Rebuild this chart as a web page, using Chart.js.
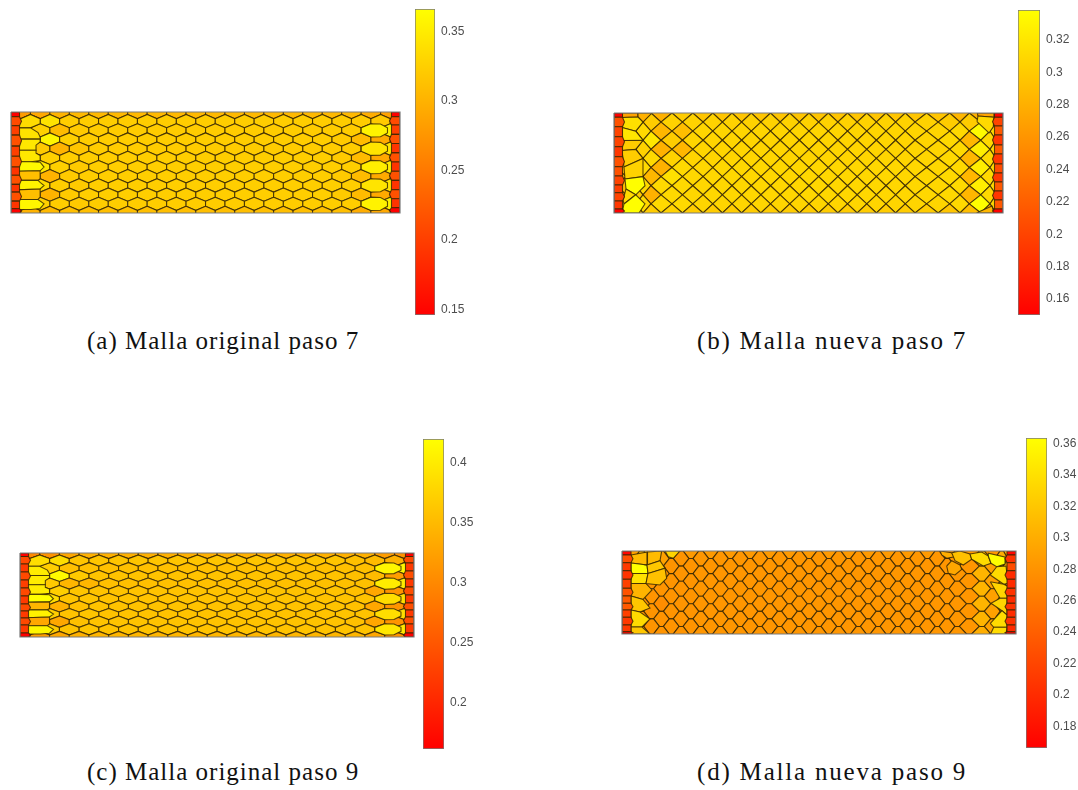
<!DOCTYPE html>
<html lang="es">
<head>
  <meta charset="UTF-8" />
  <title>Mallas</title>
  <script src="https://cdn.jsdelivr.net/npm/chart.js"></script>
  <style>
    html, body { margin: 0; background: #fff; overflow: hidden; }
    canvas { position: absolute; }
    .caption {
      position: absolute;
      font-family: "Liberation Serif", serif;
      font-size: 25px;
      letter-spacing: 1px;
      color: #111;
      white-space: nowrap;
    }
    .wide { letter-spacing: 1.8px; }
  </style>
</head>
<body>
  <div class="caption" style="left:87px;top:327px">(a) Malla original paso 7</div>
  <div class="caption wide" style="left:697px;top:327px">(b) Malla nueva paso 7</div>
  <div class="caption" style="left:87px;top:758px">(c) Malla original paso 9</div>
  <div class="caption wide" style="left:697px;top:758px">(d) Malla nueva paso 9</div>

  <script>
    // colour bars
    const ticksA = [0.15, 0.2, 0.25, 0.3, 0.35];
    const ticksB = [0.16, 0.18, 0.2, 0.22, 0.24, 0.26, 0.28, 0.3, 0.32];
    const ticksC = [0.2, 0.25, 0.3, 0.35, 0.4];
    const ticksD = [0.18, 0.2, 0.22, 0.24, 0.26, 0.28, 0.3, 0.32, 0.34, 0.36];
    const rangeA = [0.1452, 0.3654];
    const rangeB = [0.1495, 0.3379];
    const rangeC = [0.1608, 0.4192];
    const rangeD = [0.1656, 0.3630];

    // panel a: cell values by row, wall side cells / middle / far wall cells
    const leftA = [[.28,.29,.30,.305],[.33,.33,.34,.322],[.33,.325,.307,.32],[.33,.33,.358,.325],[.33,.32,.30,.315],[.33,.33,.325,.322],[.33,.345,.325,.32],[.33,.33,.30,.32],[.31,.335,.322,.32],[.33,.33,.30,.32],[.31,.325,.322,.32],[.30,.30,.305,.31]];
    const midA = [.305,.322,.321,.322,.321,.323,.323,.323,.323,.323,.322,.31];
    const rightA = [[.295,.285,.28],[.321,.321,.32,.32],[.339,.355,.29],[.32,.307,.292,.29],[.33,.342,.29],[.32,.307,.29,.29],[.334,.351,.29],[.32,.307,.292,.29],[.334,.342,.29],[.32,.307,.292,.29],[.339,.355,.29],[.295,.29,.28]];
    const wallLA = [.145,.21,.20,.215,.20,.215,.19,.215,.19,.215,.19,.145];
    const wallRA = [.145,.21,.20,.215,.19,.215,.19,.215,.19,.215,.19,.145];

    // panel b
    const leftB = [[.27,.28,.28,.30],[.29,.30,.30,.305],[.29,.31,.285,.29],[.29,.30,.32,.30],[.29,.305,.28,.285],[.29,.30,.31,.305],[.29,.31,.28,.31],[.29,.30,.285,.315],[.29,.31,.31,.31],[.29,.30,.28,.31],[.29,.31,.31,.31],[.28,.29,.30,.305]];
    const midB = [.295,.305,.307,.307,.307,.307,.308,.308,.308,.308,.307,.30];
    const rightB = [[.285,.28,.27,.27],[.30,.30,.31,.31,.31],[.31,.335,.31,.31],[.31,.285,.31,.31,.31],[.31,.325,.31,.31],[.31,.285,.31,.31,.31],[.31,.325,.31,.31],[.31,.285,.31,.31,.31],[.31,.325,.31,.31],[.31,.285,.31,.31,.31],[.31,.337,.31,.31],[.295,.29,.285,.28,.28]];
    const wallLB = [.15,.21,.20,.20,.19,.21,.21,.20,.195,.20,.19,.15];
    const wallRB = [.15,.20,.215,.19,.215,.19,.205,.19,.215,.19,.215,.15];

    // panel c
    const leftC = [[.30,.31,.33,.34],[.37,.37,.385,.36],[.37,.37,.355,.355],[.37,.37,.415,.365],[.37,.365,.345,.345],[.37,.365,.37,.36],[.37,.385,.36,.36],[.35,.34,.34,.355],[.37,.37,.358,.36],[.33,.335,.33,.355],[.37,.365,.358,.36],[.31,.32,.33,.34]];
    const midC = [.34,.36,.355,.358,.355,.358,.358,.358,.358,.358,.358,.345];
    const rightC = [[.32,.31,.30],[.355,.35,.34,.34],[.38,.41,.32],[.355,.35,.32,.31],[.375,.40,.32],[.355,.33,.31,.31],[.37,.385,.32],[.355,.33,.31,.31],[.37,.385,.32],[.355,.33,.31,.31],[.37,.395,.32],[.33,.31,.30]];
    const wallLC = [.16,.235,.22,.235,.225,.235,.22,.235,.22,.235,.22,.16];
    const wallRC = [.16,.235,.22,.24,.22,.24,.22,.24,.22,.24,.22,.16];

    // panel d
    const leftD = [[.29,.31,.30,.285],[.30,.31,.29,.28],[.285,.28,.28,.28],[.285,.285,.28,.28],[.29,.28,.28,.28],[.28,.28,.28,.28],[.28,.28,.28,.28],[.28,.28,.275,.28],[.28,.28,.28,.28],[.285,.28,.28,.28],[.28,.28,.28,.28],[.28,.285,.28,.28]];
    const midD = [.285,.282,.282,.282,.282,.282,.282,.282,.282,.282,.282,.282];
    const rightD = [[.285,.30,.30],[.282,.30,.30,.30],[.29,.30,.30],[.282,.305,.30,.30],[.29,.30,.30],[.282,.305,.30,.30],[.29,.30,.30],[.282,.305,.30,.30],[.29,.30,.30],[.282,.305,.30,.30],[.29,.30,.30],[.282,.30,.30,.30]];
    const wallLD = [.17,.225,.21,.205,.215,.23,.235,.235,.215,.21,.21,.17];
    const wallRD = [.17,.205,.225,.20,.20,.205,.20,.205,.20,.205,.20,.17];

    // wall cell edges down each wall, mesh units
    const edgesLA = [0,4.7,13.7,23,34,44,54.7,63,72,79.7,88.7,96.3,100.5];
    const edgesRA = [0,4.7,13,22.3,31.3,40.7,49.7,59,68,77.3,86.3,95.3,100.5];
    const edgesLB = [0,4.3,13.7,23.7,33.7,43.7,53.7,63,72,79.7,88,96,100];
    const edgesRB = [0,4.3,13,22,32,41,51,60,69,78,87,96,100];
    const edgesLC = [0,3.5,11,19,27,35,43,51,58,65,72,80,84];
    const edgesRC = [0,3.5,10,18,26,34,42,50,57,64,71,80,84];
    const edgesLD = [0,4,11.7,19.7,28.3,37.3,45,52.3,59,66.3,74,80.7,83];
    const edgesRD = [0,4,11.7,19.7,28.3,37.3,45,52.3,59,66.3,74,80.7,83];

    // first cell column of the original mesh, mesh units of panel a
    const shapesOriginal = [
      [[5,6.64],[9.7,6.64],[19.4,2.5],[29.1,6.64],[29.1,11.64],[19.4,15.77],[5,15.77]],
      [[5,15.77],[19.4,15.77],[27,20.5],[29.1,24.91],[29.1,27],[5,27]],
      [[5,27],[29.1,27],[29.1,29.91],[25,33],[25,38],[5,38]],
      [[5,38],[25,38],[25,41],[29.1,43.18],[29.1,48.18],[20,49.5],[5,49.5]],
      [[5,49.5],[20,49.5],[29.1,50],[33,54.8],[29.1,58.5],[5,59]],
      [[5,59],[29.1,58.5],[29.1,66.45],[27,68],[5,68]],
      [[5,68],[27,68],[29.1,70],[33,73.09],[29.1,76.6],[5,77.5]],
      [[5,77.5],[29.1,76.6],[29.1,84.73],[27,87],[5,87]],
      [[5,87],[27,87],[33,91.36],[29.1,96],[20,97],[5,97]]
    ];
    const shapeValsA = [.335,.34,.345,.345,.36,.31,.355,.31,.358];
    const shapeValsC = [.385,.40,.40,.40,.419,.345,.405,.33,.41];
    // even rows holding the long cell at the far wall, its value is in rightA / rightC
    const longRows = [2, 4, 6, 8, 10];
    const longValsA = [.355, .342, .351, .342, .355];
    const longValsC = [.41, .40, .385, .385, .395];

    // irregular cells of the new mesh: value then outline, mesh units
    const patchesB = [
      [.27,[[8,0],[24,0],[24,4],[8,4.5]]],
      [.28,[[24,0],[38,0],[29,9.09],[24,4]]],
      [.315,[[8,4.5],[24,4],[29,9.09],[21.75,18.18],[8,14.5]]],
      [.32,[[8,14.5],[21.75,18.18],[29,27.27],[8,27.5]]],
      [.30,[[8,27.5],[29,27.27],[21.75,36.36],[8,37.5]]],
      [.30,[[8,37.5],[21.75,36.36],[29,45.45],[10,54]]],
      [.305,[[10,54],[29,45.45],[29,63.64],[11,66]]],
      [.337,[[11,66],[29,63.64],[31,72.7],[21.75,81.8],[12,76]]],
      [.31,[[12,76],[21.75,81.8],[10,91],[9,87]]],
      [.337,[[10,91],[21.75,81.8],[31,90.9],[25,100],[8,100]]],
      // far wall corners
      [.27,[[363.3,0],[380,0],[380,4.3],[364,3]]],
      [.31,[[363,8.7],[364,3],[380,4.3],[379.3,13.7],[375,20]]],
      [.285,[[365,98.7],[378,93],[380,100],[363,100]]]
    ];
    const patchesD = [
      [.31,[[9,4],[25.5,1],[25,14],[9,12]]],
      [.363,[[9,12],[25,14],[26,22.5],[9,22.5]]],
      [.34,[[9,22.5],[26,22.5],[24,32.5],[9,32.5]]],
      [.305,[[9,32.5],[24,32.5],[30,39],[21,48.5],[9,45]]],
      [.32,[[9,45],[21,48.5],[28,57],[18,61],[9,59]]],
      [.335,[[9,59],[18,61],[28,68],[20,76],[9,76]]],
      [.32,[[9,76],[20,76],[28,83],[9,83]]],
      [.31,[[25.5,1],[39.7,0],[38,9.7],[25,14]]],
      [.33,[[43,0],[58,0],[51.3,7.3],[46.3,5.7]]],
      [.32,[[25,14],[38,9.7],[43,17.3],[26,22.5]]],
      [.315,[[26,22.5],[43,17.3],[44.7,27.3],[38,34],[24,32.5]]],
      // far wall
      [.30,[[318,0],[329.7,1.7],[333,5.7],[324.7,7.3],[319.7,4]]],
      [.295,[[324.7,15],[329.7,9.7],[338,14],[339.7,18.3],[333,24],[326.3,22.3]]],
      [.315,[[329.7,1.7],[338,0],[348,3],[349.7,8.3],[341.3,14],[333,9.7]]],
      [.335,[[348,3],[359.7,1],[366.3,5],[369,12.3],[361.3,15],[349.7,8.3]]],
      [.363,[[366.3,5],[366.3,2.3],[383.7,6.3],[383,13],[374.7,15.7],[369,12.3]]],
      [.335,[[368.3,24],[374.7,15.7],[384,15],[386,32.3],[381.7,33.3]]],
      [.33,[[368.3,30.7],[381.7,33.3],[386.7,35.7],[385,47.3],[378,47.3]]],
      [.33,[[369,52.3],[378,47.3],[385,47.3],[385,64],[380,59.7]]],
      [.335,[[368.3,72.3],[380,59.7],[385,64],[385,76.3],[371.7,76.3]]],
      [.335,[[369,82],[371.7,76.3],[385,76.3],[384,83],[367.3,83]]]
    ];

    // lattice columns pushed aside near the walls: mesh x before and after
    const warpFromB = [0, 21.75, 31.4, 41, 50.6, 60.25, 69.9, 90, 300, 330, 339.4, 349, 358.6, 368.25, 389];
    const warpToB = [0, 21.75, 29, 37, 47, 58, 68.5, 90, 300, 336, 346, 355.3, 366.7, 376, 389];
    const warpFromD = [0, 335, 344.75, 354.6, 364.45, 374.3, 394];
    const warpToD = [0, 335, 347, 360, 371, 380, 394];

    const patchesA = shapesOriginal.map((s, i) => [shapeValsA[i], s]);
    const patchesC = shapesOriginal.map((s, i) => [shapeValsC[i], s.map(q => [q[0] * 393.5 / 388.5, q[1] * 84 / 100.5])]);

    const panels = [
      { left: 10.5, top: 112, W: 388.5, H: 100.5, dx: 19.43, off: 0, s: 5, w: 0, range: rangeA, leftVals: leftA, mid: midA, rightVals: rightA, wallL: wallLA, wallR: wallRA, edgesL: edgesLA, edgesR: edgesRA, patches: patchesA, wall: 8.5, longVals: longValsA, longEnd: 376, bar: [415, 9, 20, 306], ticks: ticksA },
      { left: 613.5, top: 113, W: 389, H: 100, dx: 19.25, off: 2.5, s: 0, w: 0, range: rangeB, leftVals: leftB, mid: midB, rightVals: rightB, wallL: wallLB, wallR: wallRB, edgesL: edgesLB, edgesR: edgesRB, patches: patchesB, wall: 8.5, warpFrom: warpFromB, warpTo: warpToB, bar: [1018, 10, 22, 305], ticks: ticksB },
      { left: 19.5, top: 552.5, W: 393.5, H: 84, dx: 19.69, off: 0, s: 4, w: 0, range: rangeC, leftVals: leftC, mid: midC, rightVals: rightC, wallL: wallLC, wallR: wallRC, edgesL: edgesLC, edgesR: edgesRC, patches: patchesC, wall: 8.5, longVals: longValsC, longEnd: 380.5, bar: [423, 439, 21, 310], ticks: ticksC },
      { left: 622, top: 551, W: 394, H: 83, dx: 19.7, off: 0, s: 0, w: 4, range: rangeD, leftVals: leftD, mid: midD, rightVals: rightD, wallL: wallLD, wallR: wallRD, edgesL: edgesLD, edgesR: edgesRD, patches: patchesD, wall: 9, warpFrom: warpFromD, warpTo: warpToD, bar: [1025.5, 437.5, 21, 310], ticks: ticksD }
    ];

    const edgeColor = 'rgba(50,35,0,0.8)';

    function heat(v, range) {
      const f = Math.min(1, Math.max(0, (v - range[0]) / (range[1] - range[0])));
      return 'rgb(255,' + Math.round(255 * f) + ',0)';
    }

    function cell(pts, v, range) {
      return {
        data: pts.concat([pts[0]]).map(p => ({ x: p[0], y: p[1] })),
        showLine: true,
        fill: 'shape',
        tension: 0,
        pointRadius: 0,
        backgroundColor: heat(v, range),
        borderColor: edgeColor,
        borderWidth: 1.1
      };
    }

    function warpX(p, x) {
      if (!p.warpFrom) return x;
      const f = p.warpFrom, t = p.warpTo;
      for (let i = 1; i < f.length; i++) {
        if (x <= f[i]) return t[i - 1] + (x - f[i - 1]) * (t[i] - t[i - 1]) / (f[i] - f[i - 1]);
      }
      return x;
    }

    function latticeCell(p, cx, cy) {
      const rs = p.H / 11, hh = rs - p.s / 2, hw = p.dx / 2 - p.w / 2;
      return [
        [cx - p.w / 2, cy - hh], [cx + p.w / 2, cy - hh],
        [cx + hw, cy - p.s / 2], [cx + hw, cy + p.s / 2],
        [cx + p.w / 2, cy + hh], [cx - p.w / 2, cy + hh],
        [cx - hw, cy + p.s / 2], [cx - hw, cy - p.s / 2]
      ].map(q => [warpX(p, q[0]), q[1]]);
    }

    function rowValue(p, k, n, count) {
      const l = p.leftVals[k], r = p.rightVals[k];
      if (n < l.length) return l[n];
      if (n >= count - r.length) return r[n - (count - r.length)];
      return p.mid[k];
    }

    function wallCells(p, edges, vals, side) {
      return vals.map((v, i) => {
        const x0 = side === 'L' ? 0 : p.W;
        const x1 = side === 'L' ? p.wall : p.W - p.wall;
        const bulge = side === 'L' ? 2 : -2;
        const mid = (edges[i] + edges[i + 1]) / 2;
        return cell([[x0, edges[i]], [x1, edges[i]], [x1 + (i % 2 ? bulge : 0), mid], [x1, edges[i + 1]], [x0, edges[i + 1]]], v, p.range);
      });
    }

    // last cell of the even rows runs longer towards the far wall
    function longCell(p, k, v) {
      const rs = p.H / 11, y = k * rs, hh = rs - p.s / 2;
      const a = 18 * p.dx, b = p.longEnd;
      return cell([
        [a, y - p.s / 2], [a + p.dx / 2, y - hh], [b - 7, y - hh + 0.3], [b, y - p.s / 2],
        [b, y + p.s / 2], [b - 7, y + hh - 0.3], [a + p.dx / 2, y + hh], [a, y + p.s / 2]
      ], v, p.range);
    }

    function meshDatasets(p) {
      const sets = [];
      for (let k = 0; k < 12; k++) {
        const first = k % 2 ? 0 : 0.5;
        const count = Math.ceil((p.W - p.off) / p.dx - first) + 1;
        for (let n = 0; n < count; n++) {
          const cx = p.off + (n + first) * p.dx;
          const cy = k * p.H / 11;
          sets.push(cell(latticeCell(p, cx, cy), rowValue(p, k, n, count), p.range));
        }
      }
      if (p.longVals) longRows.forEach((k, i) => sets.push(longCell(p, k, p.longVals[i])));
      p.patches.forEach(c => sets.push(cell(c[1], c[0], p.range)));
      wallCells(p, p.edgesL, p.wallL, 'L').forEach(c => sets.push(c));
      wallCells(p, p.edgesR, p.wallR, 'R').forEach(c => sets.push(c));
      sets.push({
        data: [[0, 0], [p.W, 0], [p.W, p.H], [0, p.H], [0, 0]].map(q => ({ x: q[0], y: q[1] })),
        showLine: true, fill: false, pointRadius: 0, tension: 0,
        borderColor: '#7a7a7a', borderWidth: 1.2, clip: false
      });
      // the first dataset is painted last, so walls and patches go in front
      return sets.reverse();
    }

    function addCanvas(left, top, w, h) {
      const c = document.createElement('canvas');
      c.width = w; c.height = h;
      c.style.left = left + 'px'; c.style.top = top + 'px';
      c.style.width = w + 'px'; c.style.height = h + 'px';
      document.body.appendChild(c);
      return c;
    }

    panels.forEach(p => {
      const pad = 3;
      const c = addCanvas(p.left - pad, p.top - pad, Math.ceil(p.W + 2 * pad), Math.ceil(p.H + 2 * pad));
      new Chart(c, {
        type: 'scatter',
        data: { datasets: meshDatasets(p) },
        options: {
          responsive: false,
          animation: false,
          layout: { padding: pad },
          plugins: { legend: { display: false }, tooltip: { enabled: false } },
          events: [],
          scales: {
            x: { type: 'linear', display: false, min: 0, max: p.W },
            y: { type: 'linear', display: false, min: 0, max: p.H, reverse: true }
          }
        }
      });

      // colour bar, one floating bar painted with the red to yellow map
      const [bx, by, bw, bh] = p.bar;
      const labelRoom = 40, margin = 10;
      const b = addCanvas(bx - 2, by - margin, bw + 2 + labelRoom, bh + 2 * margin);
      new Chart(b, {
        type: 'bar',
        data: {
          labels: [''],
          datasets: [{
            data: [p.range],
            barPercentage: 1,
            categoryPercentage: 1,
            backgroundColor: ctx => {
              const area = ctx.chart.chartArea;
              if (!area) return '#ff0';
              const g = ctx.chart.ctx.createLinearGradient(0, area.bottom, 0, area.top);
              g.addColorStop(0, '#ff0000');
              g.addColorStop(1, '#ffff00');
              return g;
            },
            borderColor: '#7a7a7a',
            borderWidth: 1,
            borderSkipped: false
          }]
        },
        options: {
          responsive: false,
          animation: false,
          events: [],
          layout: { padding: { left: 2, top: margin, bottom: margin, right: 0 } },
          plugins: { legend: { display: false }, tooltip: { enabled: false } },
          scales: {
            x: { display: false },
            y: {
              position: 'right',
              min: p.range[0],
              max: p.range[1],
              afterBuildTicks: axis => { axis.ticks = p.ticks.map(v => ({ value: v })); },
              afterFit: axis => { axis.width = labelRoom; axis.paddingTop = 0; axis.paddingBottom = 0; },
              border: { display: false },
              grid: { drawOnChartArea: false, drawTicks: true, tickLength: -3, color: '#555' },
              ticks: {
                padding: 9,
                labelOffset: 1,
                color: '#4d4d4d',
                autoSkip: false,
                maxRotation: 0,
                font: { family: 'Liberation Sans', size: 12 },
                callback: v => String(v)
              }
            }
          }
        }
      });
    });
  </script>
</body>
</html>
